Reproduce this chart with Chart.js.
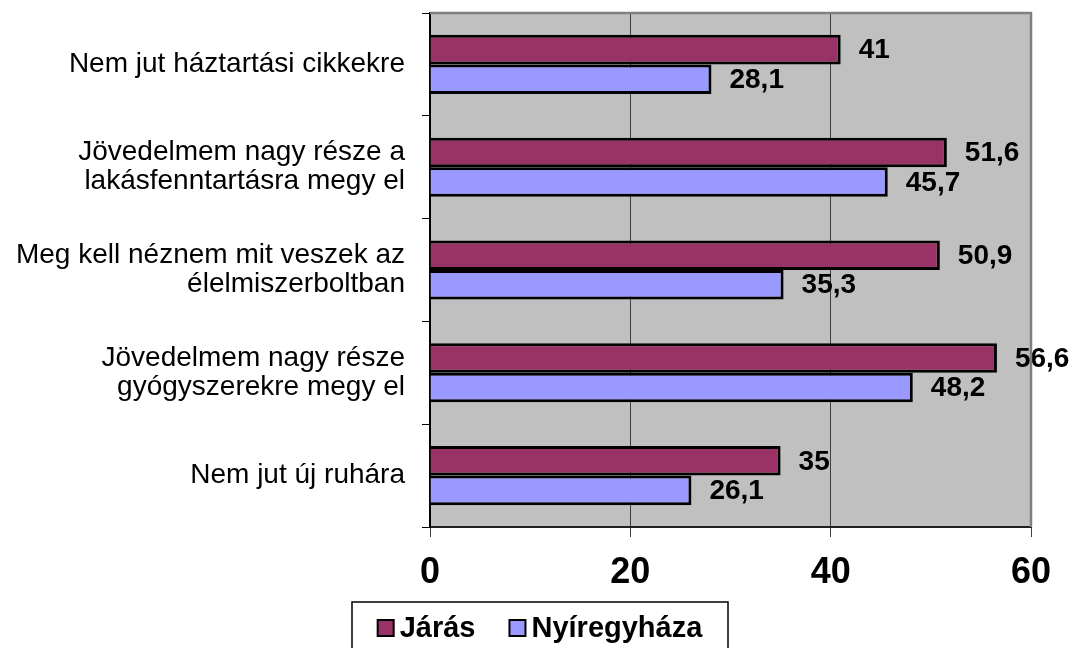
<!DOCTYPE html>
<html>
<head>
<meta charset="utf-8">
<script src="https://cdn.jsdelivr.net/npm/chart.js@4"></script>
<style>
  html, body { margin: 0; padding: 0; background: #fff; }
  #chart-wrap { width: 1075px; height: 648px; }
</style>
</head>
<body>
<div id="chart-wrap"><canvas id="survey-chart" width="1075" height="648"></canvas></div>
<script>
var categories = [
  'Nem jut háztartási cikkekre',
  ['Jövedelmem nagy része a', 'lakásfenntartásra megy el'],
  ['Meg kell néznem mit veszek az', 'élelmiszerboltban'],
  ['Jövedelmem nagy része', 'gyógyszerekre megy el'],
  'Nem jut új ruhára'
];
var jarasValues = [41, 51.6, 50.9, 56.6, 35];
var nyiregyhazaValues = [28.1, 45.7, 35.3, 48.2, 26.1];
var xTicks = [0, 20, 40, 60];

var FONT = '"Liberation Sans", Arial, sans-serif';

// grey plot background
var plotBg = {
  id: 'plotBg',
  beforeDraw: function (chart) {
    var a = chart.chartArea, c = chart.ctx;
    c.save();
    c.fillStyle = '#c0c0c0';
    c.fillRect(a.left, a.top, a.right - a.left, a.bottom - a.top);
    c.restore();
  },
  afterDraw: function (chart) {
    var a = chart.chartArea, c = chart.ctx;
    c.save();
    c.strokeStyle = '#808080';
    c.lineWidth = 2.5;
    c.beginPath();
    c.moveTo(a.left, a.top);
    c.lineTo(a.right, a.top);
    c.lineTo(a.right, a.bottom);
    c.stroke();
    c.restore();
  }
};

// value labels right of the bars
var valueLabels = {
  id: 'valueLabels',
  afterDatasetsDraw: function (chart) {
    var c = chart.ctx;
    c.save();
    c.font = 'bold 28px ' + FONT;
    c.fillStyle = '#000';
    c.textAlign = 'left';
    c.textBaseline = 'middle';
    chart.data.datasets.forEach(function (ds, i) {
      chart.getDatasetMeta(i).data.forEach(function (bar, j) {
        var v = ds.data[j];
        if (v == null) return;
        c.fillText(String(v).replace('.', ','), bar.x + 18, bar.y + 1);
      });
    });
    c.restore();
  }
};

// boxed legend at the bottom
var boxLegend = {
  id: 'boxLegend',
  afterDraw: function (chart) {
    var c = chart.ctx;
    var sets = chart.data.datasets;
    c.save();
    c.font = 'bold 29px ' + FONT;
    var box = 16, gapText = 6, gapItem = 34;
    var total = 0;
    sets.forEach(function (ds, i) {
      total += box + gapText + c.measureText(ds.label).width;
      if (i < sets.length - 1) total += gapItem;
    });
    var cx = 540, top = 602;
    var frameW = 376;
    c.strokeStyle = '#000';
    c.lineWidth = 1.5;
    c.strokeRect(cx - frameW / 2, top, frameW, 60);
    var x = cx - total / 2, y = 628;
    sets.forEach(function (ds) {
      c.fillStyle = ds.backgroundColor;
      c.fillRect(x, y - box / 2, box, box);
      c.strokeStyle = '#000';
      c.lineWidth = 2;
      c.strokeRect(x, y - box / 2, box, box);
      x += box + gapText;
      c.fillStyle = '#000';
      c.textAlign = 'left';
      c.textBaseline = 'middle';
      c.fillText(ds.label, x, y + 1);
      x += c.measureText(ds.label).width + gapItem;
    });
    c.restore();
  }
};

var ctx = document.getElementById('survey-chart').getContext('2d');

var surveyChart = new Chart(ctx, {
  type: 'bar',
  data: {
    labels: categories,
    datasets: [{
      label: 'Járás',
      backgroundColor: '#993366',
      borderColor: '#000',
      borderWidth: 3,
      data: jarasValues
    }, {
      label: 'Nyíregyháza',
      backgroundColor: '#9999ff',
      borderColor: '#000',
      borderWidth: 3,
      data: nyiregyhazaValues
    }]
  },
  options: {
    indexAxis: 'y',
    responsive: false,
    animation: false,
    categoryPercentage: 0.575,
    barPercentage: 1,
    layout: { padding: { left: 0, top: 13, right: 44, bottom: 0 } },
    plugins: {
      legend: { display: false },
      tooltip: { enabled: false }
    },
    scales: {
      x: {
        min: 0,
        max: 60,
        afterBuildTicks: function (scale) {
          scale.ticks = xTicks.map(function (v) { return { value: v }; });
        },
        afterFit: function (scale) {
          scale.height = 121;
          scale.paddingLeft = 0;
          scale.paddingRight = 0;
        },
        grid: {
          color: '#404040',
          lineWidth: 1,
          tickLength: 10,
          tickColor: '#404040'
        },
        border: { color: '#202020', width: 2 },
        ticks: {
          color: '#000',
          padding: 14,
          maxRotation: 0,
          font: { family: FONT, size: 36, weight: 'bold' }
        }
      },
      y: {
        afterFit: function (scale) {
          scale.width = 430;
          scale.paddingTop = 0;
          scale.paddingBottom = 0;
        },
        grid: {
          drawOnChartArea: false,
          tickLength: 8,
          tickColor: '#000',
          offset: true
        },
        border: { color: '#000', width: 2 },
        ticks: {
          color: '#000',
          padding: 17,
          font: { family: FONT, size: 28, lineHeight: 1.03 }
        }
      }
    }
  },
  plugins: [plotBg, valueLabels, boxLegend]
});
</script>
</body>
</html>
